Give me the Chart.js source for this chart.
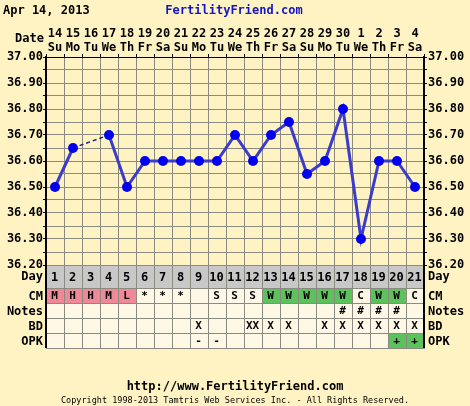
<!DOCTYPE html>
<html>
<head>
<meta charset="utf-8">
<script src="https://cdn.jsdelivr.net/npm/chart.js@4/dist/chart.umd.min.js"></script>
<style>
html,body{margin:0;padding:0;background:#FFF3C4;}
canvas{display:block;}
</style>
</head>
<body>
<canvas id="c" width="470" height="406"></canvas>
<script>
// ---- data ----
const dateNums = ['14','15','16','17','18','19','20','21','22','23','24','25','26','27','28','29','30','1','2','3','4'];
const weekdays = ['Su','Mo','Tu','We','Th','Fr','Sa','Su','Mo','Tu','We','Th','Fr','Sa','Su','Mo','Tu','We','Th','Fr','Sa'];
const cycleDays = ['1','2','3','4','5','6','7','8','9','10','11','12','13','14','15','16','17','18','19','20','21'];
const temps = [36.50,36.65,null,36.70,36.50,36.60,36.60,36.60,36.60,36.60,36.70,36.60,36.70,36.75,36.55,36.60,36.80,36.30,36.60,36.60,36.50];
const cmCodes = ['M','H','H','M','L','*','*','*','','S','S','S','W','W','W','W','W','C','W','W','C'];
const notes = ['','','','','','','','','','','','','','','','','#','#','#','#',''];
const bd = ['','','','','','','','','X','','','XX','X','X','','X','X','X','X','X','X'];
const opk = ['','','','','','','','','-','-','','','','','','','','','','+','+'];
const rowLabels = ['Day','CM','Notes','BD','OPK'];
const yMin = 36.2, yMax = 37.0;

const FONT = '"DejaVu Sans Mono", "Liberation Mono", monospace';
const GRID = '#8a8a80';

const tablePlugin = {
  id: 'table',
  afterDraw(chart) {
    const ctx = chart.ctx;
    const x = chart.scales.x;
    const area = chart.chartArea;
    const w = x.width / cycleDays.length;
    const rows = [
      {y0: 265, y1: 288, data: cycleDays},
      {y0: 288, y1: 303, data: cmCodes},
      {y0: 303, y1: 318, data: notes},
      {y0: 318, y1: 333, data: bd},
      {y0: 333, y1: 348, data: opk}
    ];
    ctx.save();
    rows.forEach((r, ri) => {
      for (let i = 0; i < r.data.length; i++) {
        const cx = x.getPixelForValue(i);
        const left = cx - w / 2;
        let fill = '#FFF8E6';
        if (ri === 0) fill = '#C8C8C8';
        if (ri === 1) {
          const c = r.data[i];
          if (c === 'M' || c === 'H' || c === 'L') fill = '#F08898';
          else if (c === 'W') fill = '#5CC25C';
        }
        if (ri === 4 && r.data[i] === '+') fill = '#5CC25C';
        ctx.fillStyle = fill;
        ctx.fillRect(left, r.y0, w, r.y1 - r.y0);
        ctx.strokeStyle = GRID;
        ctx.lineWidth = 1;
        ctx.strokeRect(Math.round(left) + 0.5, r.y0 + 0.5, Math.round(w), r.y1 - r.y0);
        const t = r.data[i];
        if (t) {
          ctx.fillStyle = '#000';
          ctx.font = 'bold ' + (ri === 0 ? 12 : 11) + 'px ' + FONT;
          ctx.textAlign = 'center';
          ctx.textBaseline = 'middle';
          ctx.fillText(t, cx - 0.5, (r.y0 + r.y1) / 2 + 1);
        }
      }
      ctx.fillStyle = '#000';
      ctx.font = 'bold 12px ' + FONT;
      ctx.textBaseline = 'middle';
      const ly = ri === 0 ? 277 : (r.y0 + r.y1) / 2 + 1;
      ctx.textAlign = 'right';
      ctx.fillText(rowLabels[ri], 43, ly);
      ctx.textAlign = 'left';
      ctx.fillText(rowLabels[ri], 428, ly);
    });
    // outer axis lines through table
    ctx.strokeStyle = '#000';
    ctx.lineWidth = 2;
    ctx.beginPath();
    ctx.moveTo(area.left, area.top); ctx.lineTo(area.left, 348);
    ctx.moveTo(area.right, area.top); ctx.lineTo(area.right, 348);
    ctx.stroke();
    // header / footer text
    ctx.fillStyle = '#000';
    ctx.font = 'bold 12px ' + FONT;
    ctx.textAlign = 'left';
    ctx.textBaseline = 'middle';
    ctx.fillText('Apr 14, 2013', 3, 11);
    ctx.fillStyle = '#1414C8';
    ctx.textAlign = 'center';
    ctx.fillText('FertilityFriend.com', 234, 11);
    ctx.fillStyle = '#000';
    ctx.textAlign = 'right';
    ctx.fillText('Date', 44, 39);
    ctx.textAlign = 'center';
    ctx.fillText('http://www.FertilityFriend.com', 235, 387);
    ctx.font = '8.5px ' + FONT;
    ctx.fillText('Copyright 1998-2013 Tamtris Web Services Inc. - All Rights Reserved.', 235, 401);
    ctx.restore();
  }
};

const yTickCb = (v) => (Math.round(v * 100) % 10 === 0 ? v.toFixed(2) : '');

new Chart(document.getElementById('c'), {
  type: 'line',
  data: {
    labels: dateNums.map((d, i) => [d, weekdays[i]]),
    datasets: [{
      data: temps,
      yAxisID: 'y',
      borderColor: '#3C3CCC',
      borderWidth: 3,
      pointBackgroundColor: '#0000EE',
      pointBorderColor: '#0000EE',
      pointRadius: 5,
      pointBorderWidth: 0,
      spanGaps: true,
      tension: 0,
      segment: {
        borderDash: c => (c.p0.skip || c.p1.skip) ? [4, 3] : undefined,
        borderWidth: c => (c.p0.skip || c.p1.skip) ? 1.5 : undefined,
        borderColor: c => (c.p0.skip || c.p1.skip) ? '#20207A' : undefined
      }
    }]
  },
  options: {
    responsive: false,
    animation: false,
    devicePixelRatio: 1,
    layout: { padding: { left: 0, right: 0, top: 0, bottom: 141 } },
    plugins: { legend: { display: false }, tooltip: { enabled: false } },
    scales: {
      x: {
        type: 'category',
        position: 'top',
        offset: true,
        grid: { offset: true, color: GRID, lineWidth: 1, tickLength: 3, tickColor: '#000' },
        border: { color: '#000', width: 1 },
        ticks: {
          color: '#000',
          font: { family: FONT, size: 12, weight: 'bold', lineHeight: 1.1 },
          padding: 0,
          maxRotation: 0,
          autoSkip: false
        },
        afterFit: s => { s.height = 57; }
      },
      y: {
        position: 'left',
        min: yMin, max: yMax,
        grid: { color: GRID, lineWidth: 1, tickLength: 3, tickColor: '#000' },
        border: { color: '#000', width: 2 },
        ticks: {
          stepSize: 0.05,
          color: '#000',
          font: { family: FONT, size: 12, weight: 'bold' },
          padding: 0,
          autoSkip: false,
          callback: yTickCb
        },
        afterFit: s => { s.width = 46; }
      },
      y2: {
        position: 'right',
        min: yMin, max: yMax,
        grid: { drawOnChartArea: false, tickLength: 3, color: '#000' },
        border: { color: '#000', width: 2 },
        ticks: {
          stepSize: 0.05,
          color: '#000',
          font: { family: FONT, size: 12, weight: 'bold' },
          padding: 1,
          autoSkip: false,
          callback: yTickCb
        },
        afterFit: s => { s.width = 46; }
      }
    }
  },
  plugins: [tablePlugin]
});
</script>
</body>
</html>
